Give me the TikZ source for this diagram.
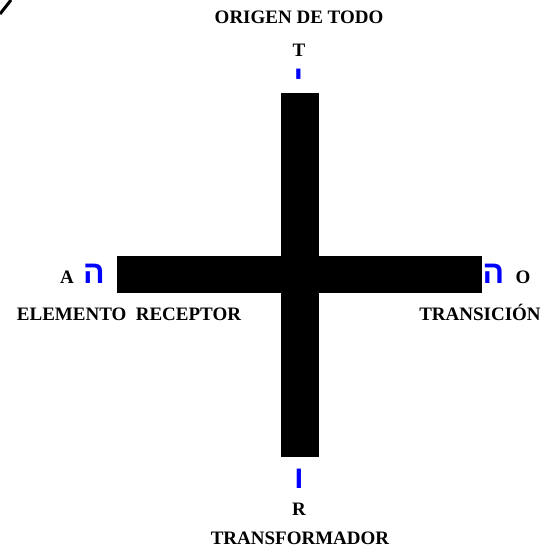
\documentclass[tikz,border=0pt]{standalone}
\usepackage{fontspec}
\setmainfont{Liberation Serif}
\newfontfamily\hebfont[Script=Hebrew]{Liberation Sans}
\TeXXeTstate=1
\usetikzlibrary{positioning}

\begin{document}
\begin{tikzpicture}[
    x=1pt, y=-1pt,
    word/.style={font=\fontsize{19}{21}\selectfont\bfseries, inner sep=0pt, anchor=base},
    letter/.style={font=\hebfont\bfseries\fontsize{32}{34}\selectfont, text=blue, inner sep=0pt},
    bar/.style={fill=black}
]
\useasboundingbox (0,0) rectangle (543,548);

% --- corner mark ---
\draw[line width=3pt] (0,14) -- (11,0);

% --- cross ---
\fill[bar] (281,93) rectangle (319,457);
\fill[bar] (117,256) rectangle (482,293);

% --- top arm ---
\node[word] (origen) at (299,24) {ORIGEN DE TODO};
\node[word] (letT) at (299,57) {T};
\node[letter] (yod) at (298.5,79) {\beginR י\endR};

% --- left arm ---
\node[word] (letA) at (67,283) {A};
\node[letter] (heL) at (94,273.5) {\beginR ה\endR};
\node[word] (receptor) at (129,320) {ELEMENTO\ \ RECEPTOR};

% --- right arm ---
\node[letter] (heR) at (493.5,274) {\beginR ה\endR};
\node[word] (letO) at (523,283) {O};
\node[word] (transicion) at (480,320) {TRANSICIÓN};

% --- bottom arm ---
\node[letter] (vav) at (299,479) {\beginR ו\endR};
\node[word] (letR) at (299,515) {R};
\node[word] (transform) at (300,544) {TRANSFORMADOR};

\end{tikzpicture}
\end{document}
